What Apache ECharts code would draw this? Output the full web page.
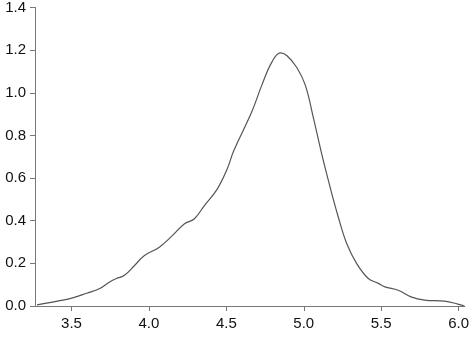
<!DOCTYPE html>
<html>
<head>
<meta charset="utf-8">
<script src="https://cdn.jsdelivr.net/npm/echarts@6/dist/echarts.min.js"></script>
<style>
html,body{margin:0;padding:0;background:#fff;}
#chart{width:472px;height:339px;}
</style>
</head>
<body>
<div id="chart"></div>
<script>
const xValues = [3.277,3.425,3.502,3.598,3.682,3.746,3.791,3.842,3.907,3.971,4.067,4.151,4.228,4.292,4.357,4.440,4.504,4.549,4.665,4.729,4.794,4.849,4.890,4.954,5.010,5.063,5.117,5.171,5.224,5.278,5.342,5.417,5.481,5.524,5.610,5.693,5.781,5.910,5.995,6.038];
const yValues = [0.005,0.025,0.037,0.060,0.082,0.113,0.129,0.144,0.190,0.237,0.276,0.330,0.385,0.408,0.470,0.547,0.640,0.730,0.912,1.036,1.144,1.187,1.175,1.120,1.036,0.880,0.710,0.555,0.415,0.292,0.199,0.129,0.106,0.090,0.074,0.043,0.028,0.023,0.009,0.000];
const xTicks = [3.5,4.0,4.5,5.0,5.5,6.0];

const chart = echarts.init(document.getElementById('chart'));
const font = 'Liberation Sans, Arial, sans-serif';
chart.setOption({
  animation:false,
  grid:{left:35,right:5,top:5,bottom:33},
  xAxis:{
    type:'value', min:3.264, max:6.04,
    axisLine:{lineStyle:{color:'#777',width:1}},
    axisTick:{show:true,length:5,customValues:xTicks,lineStyle:{color:'#777'}},
    axisLabel:{customValues:xTicks,formatter:v=>v.toFixed(1),color:'#111',fontSize:15,fontFamily:font,margin:10},
    splitLine:{show:false}
  },
  yAxis:{
    type:'value', min:0, max:1.4, interval:0.2,
    axisLine:{show:true,lineStyle:{color:'#777',width:1}},
    axisTick:{show:true,length:5,lineStyle:{color:'#777'}},
    axisLabel:{formatter:v=>v.toFixed(1),color:'#111',fontSize:15,fontFamily:font,margin:9},
    splitLine:{show:false}
  },
  series:[{
    type:'line', smooth:0.4, showSymbol:false,
    data:xValues.map((x,i)=>[x,yValues[i]]),
    lineStyle:{color:'#555',width:1.2}
  }]
});
</script>
</body>
</html>
